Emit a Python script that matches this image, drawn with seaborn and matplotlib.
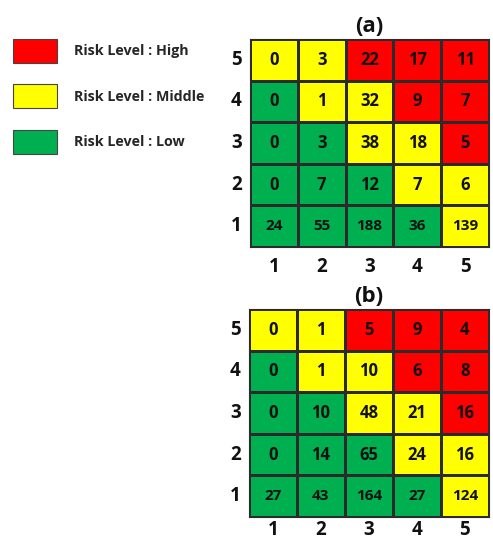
import numpy as np
import pandas as pd
import seaborn as sns
import matplotlib.pyplot as plt
from matplotlib.colors import ListedColormap
from matplotlib.patches import Patch

sns.set_theme(style="white")
plt.rcParams['font.family'] = ['Open Sans', 'DejaVu Sans']
plt.rcParams['font.weight'] = 'bold'

# Axis categories (rows listed from top = 5 down to bottom = 1)
likelihood = [5, 4, 3, 2, 1]
severity = [1, 2, 3, 4, 5]

# Risk class of each cell: 0 = Low, 1 = Middle, 2 = High
risk_level = [
    [1, 1, 2, 2, 2],
    [0, 1, 1, 2, 2],
    [0, 0, 1, 1, 2],
    [0, 0, 0, 1, 1],
    [0, 0, 0, 0, 1],
]

# Counts per cell for panel (a)
counts_a = [
    [0, 3, 22, 17, 11],
    [0, 1, 32, 9, 7],
    [0, 3, 38, 18, 5],
    [0, 7, 12, 7, 6],
    [24, 55, 188, 36, 139],
]

# Counts per cell for panel (b)
counts_b = [
    [0, 1, 5, 9, 4],
    [0, 1, 10, 6, 8],
    [0, 10, 48, 21, 16],
    [0, 14, 65, 24, 16],
    [27, 43, 164, 27, 124],
]

level_names = ["Risk Level : High", "Risk Level : Middle", "Risk Level : Low"]
level_colors = ["#00B050", "#FFFF00", "#FF0000"]  # Low, Middle, High
cmap = ListedColormap(level_colors)

fig = plt.figure(figsize=(4.93, 5.43), dpi=100)
ax_a = fig.add_axes([250 / 493, 1 - 247 / 543, 239 / 493, 208 / 543])
ax_b = fig.add_axes([249 / 493, 1 - 517 / 543, 240 / 493, 208 / 543])


def draw_matrix(ax, counts, title, xpad):
    levels = pd.DataFrame(risk_level, index=likelihood, columns=severity)
    annot = np.array(counts)
    sns.heatmap(levels, ax=ax, cmap=cmap, vmin=-0.5, vmax=2.5, cbar=False,
                annot=annot, fmt="d", linewidths=0.8, linecolor="#2b2b2b",
                annot_kws={"fontsize": 12, "fontweight": "bold", "color": "#111111"})
    # bottom row carries the larger totals in a smaller face
    n = len(severity)
    for i, t in enumerate(ax.texts):
        if i // n == len(likelihood) - 1:
            t.set_fontsize(11)
    ax.set_title(title, fontsize=16, fontweight="bold", pad=5, color="#111111")
    ax.tick_params(axis="both", length=0, labelsize=13.5, colors="#111111")
    ax.tick_params(axis="x", pad=xpad)
    ax.tick_params(axis="y", pad=6)
    for lab in ax.get_xticklabels() + ax.get_yticklabels():
        lab.set_fontweight("bold")
    ax.set_yticklabels(ax.get_yticklabels(), rotation=0)
    ax.set_xlabel("")
    ax.set_ylabel("")
    for s in ax.spines.values():
        s.set_visible(True)
        s.set_color("#2b2b2b")
        s.set_linewidth(0.8)


draw_matrix(ax_a, counts_a, "(a)", 7.5)
draw_matrix(ax_b, counts_b, "(b)", 2.5)

handles = [Patch(facecolor=c, edgecolor="#444444", linewidth=0.8)
           for c in level_colors[::-1]]
fig.legend(handles, level_names, loc="upper left",
           bbox_to_anchor=(13 / 493, 1 - 39 / 543), frameon=False,
           handlelength=3.08, handleheight=2.2,
           handletextpad=1.19, labelspacing=1.5, borderpad=0, borderaxespad=0,
           prop={"weight": "bold", "size": 10.3})

fig.savefig("out.png", dpi=100)
